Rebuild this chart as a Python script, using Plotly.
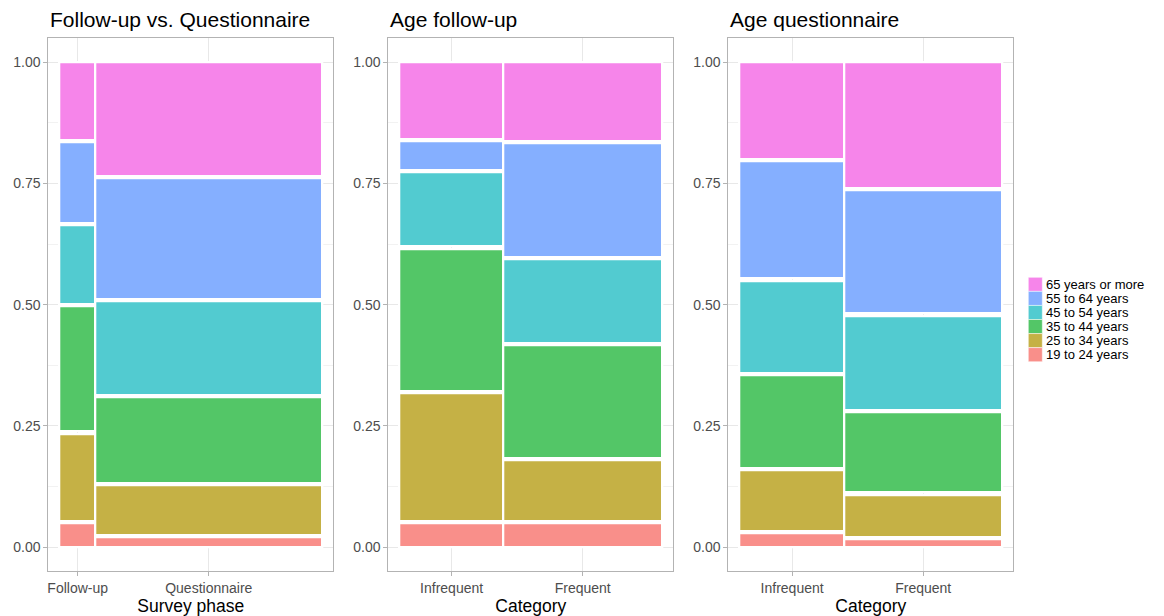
import plotly.graph_objects as go

# Age groups (stacking order, bottom to top) and their fill colours
age_groups = ["19 to 24 years", "25 to 34 years", "35 to 44 years",
              "45 to 54 years", "55 to 64 years", "65 years or more"]
age_colors = ["#F98F8A", "#C5B145", "#53C667", "#52CBD0", "#85AFFF", "#F685EA"]

# Panel 1: survey phase
phase_labels = ["Follow-up", "Questionnaire"]
phase_share = [0.137, 0.863]
followup_age = [0.051, 0.185, 0.262, 0.168, 0.170, 0.164]
questionnaire_age = [0.023, 0.107, 0.181, 0.198, 0.253, 0.238]

# Panel 2: age at follow-up by category
category_labels = ["Infrequent", "Frequent"]
fu_category_share = [0.396, 0.604]
fu_infrequent_age = [0.052, 0.267, 0.298, 0.158, 0.064, 0.161]
fu_frequent_age = [0.051, 0.131, 0.237, 0.177, 0.238, 0.166]

# Panel 3: age at questionnaire by category
q_category_share = [0.400, 0.600]
q_infrequent_age = [0.031, 0.130, 0.195, 0.195, 0.247, 0.202]
q_frequent_age = [0.018, 0.092, 0.170, 0.199, 0.259, 0.262]

panels = [
    dict(title="Follow-up vs. Questionnaire", xlabel="Survey phase",
         labels=phase_labels, shares=phase_share,
         columns=[followup_age, questionnaire_age]),
    dict(title="Age follow-up", xlabel="Category",
         labels=category_labels, shares=fu_category_share,
         columns=[fu_infrequent_age, fu_frequent_age]),
    dict(title="Age questionnaire", xlabel="Category",
         labels=category_labels, shares=q_category_share,
         columns=[q_infrequent_age, q_frequent_age]),
]

W, H = 1164, 616
panel_px = [(48.3, 333.3), (388.3, 673.3), (728.3, 1013.3)]
panel_top_px, panel_bottom_px = 38.3, 571.0
y_dom = [1 - panel_bottom_px / H, 1 - panel_top_px / H]

PAD = 0.0023          # small vertical separation between stacked tiles
FONT = "Liberation Sans, Arial, Helvetica, sans-serif"

fig = go.Figure()
layout_axes = {}
annotations = []

for p_idx, panel in enumerate(panels):
    n = p_idx + 1
    xref = "x" if n == 1 else f"x{n}"
    yref = "y" if n == 1 else f"y{n}"

    # column positions along the x axis from the cumulative shares
    centers = []
    acc = 0.0
    for s in panel["shares"]:
        centers.append(acc + s / 2)
        acc += s

    for g_idx, group in enumerate(age_groups):
        bases, heights = [], []
        for col in panel["columns"]:
            bottom = sum(col[:g_idx])
            top = bottom + col[g_idx]
            b = bottom + (PAD if g_idx > 0 else 0)
            t = top - (PAD if g_idx < len(age_groups) - 1 else 0)
            bases.append(b)
            heights.append(t - b)
        fig.add_trace(go.Bar(
            x=centers, y=heights, base=bases, width=panel["shares"],
            name=group, showlegend=False,
            marker=dict(color=age_colors[g_idx],
                        line=dict(color="white", width=2.3)),
            xaxis=xref, yaxis=yref,
        ))

    x0, x1 = panel_px[p_idx]
    axis_common = dict(
        showline=True, mirror=True, linecolor="#B3B3B3", linewidth=1,
        ticks="outside", ticklen=4, tickcolor="#B3B3B3", tickwidth=1,
        showgrid=True, gridcolor="#E8E8E8", gridwidth=1, zeroline=False,
        tickfont=dict(family=FONT, size=14, color="#4D4D4D"),
    )
    layout_axes["xaxis" if n == 1 else f"xaxis{n}"] = dict(
        axis_common,
        domain=[x0 / W, x1 / W], anchor=yref,
        range=[-0.0435, 1.0435],
        tickvals=centers, ticktext=panel["labels"],
        title=dict(text=panel["xlabel"], standoff=4,
                   font=dict(family=FONT, size=17.5, color="#000000")),
    )
    layout_axes["yaxis" if n == 1 else f"yaxis{n}"] = dict(
        axis_common,
        domain=y_dom, anchor=xref,
        range=[-0.049, 1.049],
        tickvals=[0, 0.25, 0.5, 0.75, 1.0],
        ticktext=["0.00", "0.25", "0.50", "0.75", "1.00"],
        minor=dict(tickvals=[0.125, 0.375, 0.625, 0.875], showgrid=True,
                   gridcolor="#F2F2F2", gridwidth=0.6, ticks=""),
    )
    annotations.append(dict(
        text=panel["title"], xref="paper", yref="paper",
        x=x0 / W, y=1 - 19 / H, xanchor="left", yanchor="middle",
        showarrow=False, font=dict(family=FONT, size=21, color="#000000"),
    ))

# Legend: colour keys with labels, top entry is the oldest group
shapes = []
key_x0, key_x1 = 1028.3, 1042.3
key_top, key_h = 277.3, 14.07
for i, group in enumerate(reversed(age_groups)):
    color = age_colors[len(age_groups) - 1 - i]
    y_top = key_top + i * key_h
    shapes.append(dict(
        type="rect", xref="paper", yref="paper",
        x0=key_x0 / W, x1=key_x1 / W,
        y0=1 - (y_top + key_h) / H, y1=1 - y_top / H,
        fillcolor=color, line=dict(color="white", width=0.5),
    ))
    annotations.append(dict(
        text=group, xref="paper", yref="paper",
        x=1044 / W, y=1 - (y_top + key_h / 2) / H,
        xanchor="left", yanchor="middle", showarrow=False,
        font=dict(family=FONT, size=13, color="#000000"),
    ))

fig.update_layout(
    width=W, height=H,
    margin=dict(l=0, r=0, t=0, b=0, autoexpand=False),
    paper_bgcolor="white", plot_bgcolor="white",
    barmode="overlay", bargap=0,
    showlegend=False,
    annotations=annotations, shapes=shapes,
    **layout_axes,
)

fig.write_html("out.html")
